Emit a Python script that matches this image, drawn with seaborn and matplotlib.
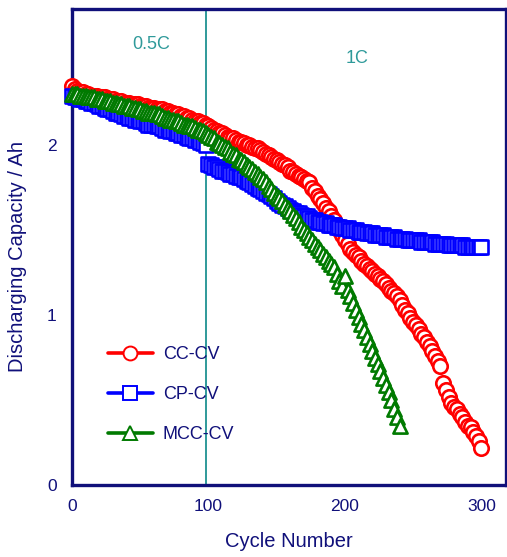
import numpy as np
import pandas as pd
import matplotlib
matplotlib.use("Agg")
import matplotlib.pyplot as plt
from matplotlib.lines import Line2D
import seaborn as sns

# ---------------- data ----------------
cc_cycles = list(range(0, 301, 2))
cc_cv = [2.35, 2.33, 2.32, 2.31, 2.31, 2.30, 2.30, 2.29, 2.29, 2.29,
         2.28, 2.28, 2.28, 2.27, 2.27, 2.27, 2.26, 2.26, 2.26, 2.25,
         2.25, 2.25, 2.24, 2.24, 2.24, 2.23, 2.23, 2.23, 2.22, 2.22,
         2.22, 2.21, 2.21, 2.21, 2.20, 2.20, 2.19, 2.19, 2.18, 2.18,
         2.17, 2.17, 2.16, 2.16, 2.15, 2.14, 2.14, 2.13, 2.13, 2.12,
         2.11, 2.10, 2.09, 2.08, 2.07, 2.07, 2.06, 2.05, 2.04, 2.04,
         2.03, 2.02, 2.02, 2.01, 2.00, 2.00, 1.99, 1.98, 1.98, 1.97,
         1.96, 1.95, 1.94, 1.93, 1.92, 1.91, 1.90, 1.89, 1.88, 1.87,
         1.85, 1.84, 1.83, 1.82, 1.81, 1.80, 1.79, 1.78, 1.75, 1.73,
         1.70, 1.68, 1.66, 1.63, 1.61, 1.58, 1.56, 1.53, 1.50, 1.47,
         1.44, 1.42, 1.39, 1.37, 1.35, 1.34, 1.32, 1.30, 1.29, 1.27,
         1.26, 1.24, 1.23, 1.21, 1.20, 1.18, 1.16, 1.14, 1.13, 1.11,
         1.09, 1.06, 1.03, 1.01, 0.98, 0.96, 0.94, 0.92, 0.89, 0.87,
         0.84, 0.82, 0.79, 0.76, 0.73, 0.70, 0.60, 0.56, 0.52, 0.48,
         0.46, 0.45, 0.42, 0.40, 0.37, 0.35, 0.34, 0.31, 0.29, 0.26,
         0.22]

cp_cycles = list(range(0, 301, 2))
cp_cv = [2.29, 2.28, 2.28, 2.27, 2.27, 2.26, 2.26, 2.25, 2.25, 2.24,
         2.23, 2.23, 2.22, 2.21, 2.21, 2.20, 2.19, 2.19, 2.18, 2.17,
         2.17, 2.16, 2.16, 2.15, 2.15, 2.14, 2.14, 2.13, 2.12, 2.12,
         2.12, 2.11, 2.11, 2.10, 2.09, 2.09, 2.08, 2.08, 2.07, 2.07,
         2.06, 2.06, 2.05, 2.04, 2.04, 2.03, 2.03, 2.02, 2.01, 2.00,
         1.89, 1.88, 1.87, 1.87, 1.86, 1.85, 1.85, 1.84, 1.83, 1.83,
         1.82, 1.81, 1.81, 1.80, 1.79, 1.78, 1.77, 1.76, 1.75, 1.74,
         1.73, 1.72, 1.71, 1.70, 1.69, 1.67, 1.66, 1.65, 1.64, 1.63,
         1.62, 1.61, 1.60, 1.60, 1.59, 1.58, 1.58, 1.57, 1.56, 1.56,
         1.55, 1.55, 1.54, 1.54, 1.53, 1.53, 1.53, 1.52, 1.52, 1.51,
         1.51, 1.51, 1.50, 1.50, 1.50, 1.49, 1.49, 1.49, 1.48, 1.48,
         1.48, 1.47, 1.47, 1.47, 1.47, 1.46, 1.46, 1.46, 1.46, 1.45,
         1.45, 1.45, 1.45, 1.44, 1.44, 1.44, 1.44, 1.44, 1.43, 1.43,
         1.43, 1.43, 1.43, 1.42, 1.42, 1.42, 1.42, 1.42, 1.41, 1.41,
         1.41, 1.41, 1.41, 1.41, 1.40, 1.40, 1.40, 1.40, 1.40, 1.40,
         1.40]

mcc_cycles = list(range(0, 241, 2))
mcc_cv = [2.30, 2.30, 2.30, 2.29, 2.29, 2.29, 2.28, 2.28, 2.28, 2.27,
          2.27, 2.27, 2.26, 2.26, 2.26, 2.25, 2.25, 2.24, 2.24, 2.23,
          2.23, 2.23, 2.22, 2.22, 2.21, 2.21, 2.20, 2.20, 2.19, 2.19,
          2.19, 2.18, 2.18, 2.17, 2.16, 2.16, 2.15, 2.15, 2.14, 2.14,
          2.13, 2.12, 2.12, 2.11, 2.11, 2.10, 2.09, 2.09, 2.08, 2.07,
          2.06, 2.05, 2.04, 2.02, 2.01, 2.00, 1.99, 1.98, 1.96, 1.95,
          1.94, 1.92, 1.91, 1.90, 1.88, 1.87, 1.86, 1.84, 1.83, 1.81,
          1.80, 1.78, 1.76, 1.74, 1.72, 1.70, 1.69, 1.67, 1.65, 1.63,
          1.61, 1.59, 1.57, 1.55, 1.52, 1.50, 1.48, 1.46, 1.44, 1.42,
          1.40, 1.38, 1.36, 1.34, 1.32, 1.30, 1.28, 1.24, 1.20, 1.17,
          1.23, 1.15, 1.11, 1.07, 1.03, 0.99, 0.95, 0.91, 0.87, 0.83,
          0.79, 0.75, 0.71, 0.67, 0.63, 0.59, 0.55, 0.50, 0.45, 0.40,
          0.35]

series_names = ["CC-CV", "CP-CV", "MCC-CV"]
rate_change_cycle = 98
rate_labels = ["0.5C", "1C"]
x_ticks = [0, 100, 200, 300]
y_ticks = [0, 1, 2]

# ---------------- style ----------------
navy = "#10107a"
teal = "#2f9a9a"
colors = {"CC-CV": "#ff0000", "CP-CV": "#0000ff", "MCC-CV": "#007a00"}
markers = {"CC-CV": "o", "CP-CV": "s", "MCC-CV": "^"}
sizes = {"CC-CV": 108, "CP-CV": 90, "MCC-CV": 104}

sns.set_style("white")
plt.rcParams["font.family"] = ["Liberation Sans", "DejaVu Sans"]

fig = plt.figure(figsize=(5.07, 5.57), dpi=100)
ax = fig.add_axes([72 / 507, 72 / 557, 434 / 507, 476 / 557])

frames = [
    pd.DataFrame({"cycle": cc_cycles, "cap": cc_cv, "method": "CC-CV"}),
    pd.DataFrame({"cycle": cp_cycles, "cap": cp_cv, "method": "CP-CV"}),
    pd.DataFrame({"cycle": mcc_cycles, "cap": mcc_cv, "method": "MCC-CV"}),
]

for df in frames:
    name = df["method"].iloc[0]
    sns.scatterplot(data=df, x="cycle", y="cap", ax=ax, marker=markers[name],
                    s=sizes[name], facecolor="white", edgecolor=colors[name],
                    linewidth=1.9, legend=False, clip_on=False, zorder=3)

ax.axvline(rate_change_cycle, color=teal, lw=1.4, zorder=2)
ax.text(58, 2.59, rate_labels[0], color=teal, fontsize=13, ha="center", va="center")
ax.text(209, 2.51, rate_labels[1], color=teal, fontsize=13, ha="center", va="center")

ax.set_xlim(0, 318)
ax.set_ylim(0, 2.8)
ax.set_xticks(x_ticks)
ax.set_yticks(y_ticks)
ax.tick_params(direction="in", length=7, width=2.2, colors=navy,
               labelsize=12.5, labelcolor=navy)
ax.tick_params(axis="x", pad=10)
ax.tick_params(axis="y", pad=11)
for side in ["left", "bottom", "top", "right"]:
    ax.spines[side].set_color(navy)
    ax.spines[side].set_linewidth(2.4)

ax.set_xlabel("Cycle Number", color=navy, fontsize=14.5)
ax.set_ylabel("Discharging Capacity / Ah", color=navy, fontsize=14.5)
ax.xaxis.set_label_coords(0.5, -47 / 476)
ax.yaxis.set_label_coords(-45 / 434, 0.481)

handles = [Line2D([0], [0], color=colors[n], lw=2.6, marker=markers[n],
                  markersize=10 if n != "CP-CV" else 9.5,
                  markerfacecolor="white", markeredgecolor=colors[n],
                  markeredgewidth=1.4) for n in series_names]
leg = ax.legend(handles, series_names, loc="upper left",
                bbox_to_anchor=(0.082, 0.291), frameon=False, fontsize=13,
                handlelength=2.5, handletextpad=0.55, labelspacing=1.26,
                borderpad=0, borderaxespad=0)
for t in leg.get_texts():
    t.set_color(navy)

fig.savefig("out.png", dpi=100)
